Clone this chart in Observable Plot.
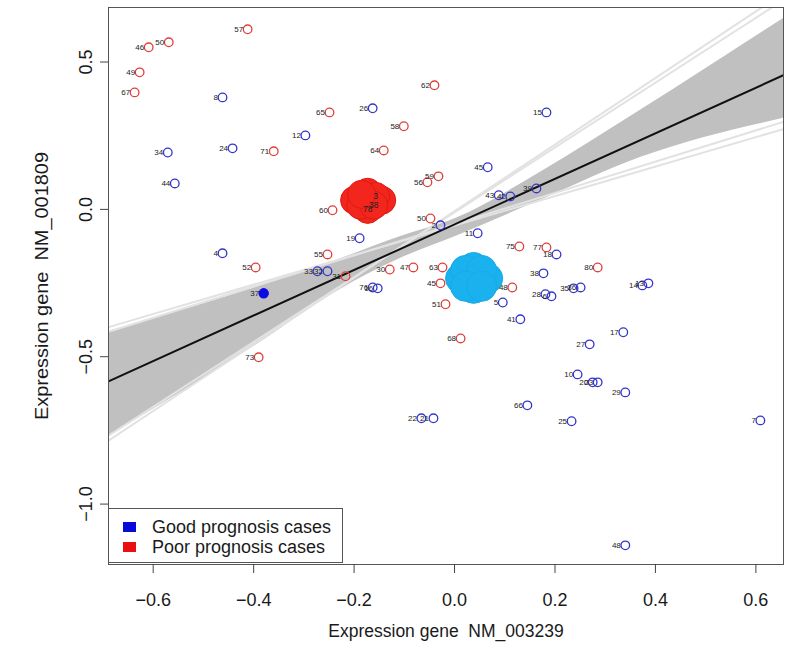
<!DOCTYPE html>
<html>
<head>
<meta charset="utf-8">
<script src="https://cdn.jsdelivr.net/npm/d3@7"></script>
<script src="https://cdn.jsdelivr.net/npm/@observablehq/plot@0.6"></script>
<style>
  body { margin: 0; background: #fff; }
  #wrap { position: relative; width: 795px; height: 650px; font-family: "Liberation Sans", Arial, sans-serif; color: #1a1a1a; }
  #legend { position: absolute; left: 108px; top: 508px; width: 235px; height: 55px; border: 1px solid #555; background: #fff; box-sizing: border-box; }
  .item { position: absolute; left: 14px; height: 20px; display: flex; align-items: center; font-size: 18px; white-space: nowrap; }
  .sw { display: inline-block; width: 13px; height: 10px; margin-right: 16px; }
</style>
</head>
<body>
<div id="wrap"></div>
<script>
// ---- axes ----
const xTicks = [-0.6, -0.4, -0.2, 0.0, 0.2, 0.4, 0.6];
const yTicks = [-1.0, -0.5, 0.0, 0.5];
const xDomain = [-0.689, 0.655];
const yDomain = [-1.205, 0.685];
const xTitle = "Expression gene\u00a0\u00a0NM_003239";
const yTitle = "Expression gene\u00a0\u00a0NM_001809";
const legendLabels = ["Good prognosis cases", "Poor prognosis cases"];
const legendColors = ["#0a0ad8", "#e81010"];

// ---- poor prognosis cases (red open circles) ----
const poorLabels = ["57","46","50","49","67","62","65","58","71","64","59","56","60","50","55","52","73","30","47","63","45","51","68","48","75","77","80","31"];
const poorX = [-0.412,-0.609,-0.569,-0.627,-0.637,-0.040,-0.249,-0.101,-0.360,-0.141,-0.032,-0.054,-0.243,-0.048,-0.253,-0.396,-0.390,-0.129,-0.082,-0.024,-0.028,-0.018,0.012,0.115,0.129,0.183,0.285,-0.217];
const poorY = [0.611,0.550,0.567,0.465,0.397,0.421,0.329,0.282,0.197,0.200,0.112,0.092,-0.003,-0.031,-0.153,-0.197,-0.502,-0.204,-0.197,-0.197,-0.251,-0.322,-0.438,-0.265,-0.126,-0.129,-0.197,-0.227];

// ---- good prognosis cases (blue open circles) ----
const goodLabels = ["8","12","34","24","44","26","15","45","43","42","39","19","2","11","4","33","32","76","16","5","41","18","38","28","6","35","36","14","13","17","27","10","20","23","29","66","22","21","25","7","48"];
const goodX = [-0.462,-0.297,-0.571,-0.442,-0.557,-0.163,0.183,0.066,0.088,0.111,0.163,-0.189,-0.028,0.046,-0.462,-0.273,-0.253,-0.163,-0.153,0.096,0.131,0.203,0.177,0.181,0.193,0.237,0.251,0.374,0.386,0.336,0.269,0.245,0.275,0.285,0.340,0.145,-0.066,-0.042,0.233,0.609,0.340];
const goodY = [0.380,0.251,0.193,0.207,0.088,0.343,0.329,0.143,0.048,0.044,0.071,-0.098,-0.054,-0.081,-0.149,-0.210,-0.210,-0.265,-0.268,-0.316,-0.373,-0.153,-0.217,-0.288,-0.295,-0.268,-0.265,-0.258,-0.251,-0.417,-0.458,-0.560,-0.587,-0.587,-0.621,-0.665,-0.709,-0.709,-0.719,-0.716,-1.140];

// ---- highlighted good case (filled) ----
const filledLabels = ["37"];
const filledX = [-0.380];
const filledY = [-0.285];

// ---- dense clouds of repeated points ----
const poorCloudX = [-0.199,-0.145,-0.173,-0.173,-0.187,-0.157,-0.161,-0.185];
const poorCloudY = [0.031,0.031,0.058,0.000,0.014,0.044,0.014,0.051];
const poorCloudLabels = ["","","","78","","3","38",""];
const goodCloudX = [0.012,0.066,0.038,0.038,0.022,0.054,0.022,0.054];
const goodCloudY = [-0.234,-0.234,-0.197,-0.268,-0.207,-0.207,-0.261,-0.261];

// ---- regression line and bootstrap band ----
const bandX    = [-0.689,-0.396,-0.231,-0.107,0.002,0.171,0.370,0.655];
const bandLow  = [-0.770,-0.461,-0.275,-0.166,-0.092,0.031,0.176,0.309];
const bandHigh = [-0.414,-0.265,-0.170,-0.092,-0.031,0.126,0.336,0.648];
const fitSlope = 0.773;
const fitIntercept = -0.051;
const bootSlopes = [1.13, 1.10, 0.50, 0.53];
const bootIntercepts = [-0.006, -0.010, -0.055, -0.050];

// ---- build tables ----
const rows = (xs, ys, ls) => xs.map((x, i) => ({x, y: ys[i], label: ls ? ls[i] : ""}));
const poor = rows(poorX, poorY, poorLabels);
const good = rows(goodX, goodY, goodLabels);
const filled = rows(filledX, filledY, filledLabels);
const poorCloud = rows(poorCloudX, poorCloudY, poorCloudLabels);
const goodCloud = rows(goodCloudX, goodCloudY);
const band = bandX.map((x, i) => ({x, lo: bandLow[i], hi: bandHigh[i]}));
const boot = bootSlopes.map((s, i) => ({
  x1: xDomain[0], y1: bootIntercepts[i] + s * xDomain[0],
  x2: xDomain[1], y2: bootIntercepts[i] + s * xDomain[1]
}));
const fit = xDomain.map(x => ({x, y: fitIntercept + fitSlope * x}));
const fmt = d3.format(".1f");

const svg = Plot.plot({
  width: 795, height: 650,
  marginLeft: 108, marginRight: 12, marginTop: 7, marginBottom: 86,
  x: {domain: xDomain, axis: null},
  y: {domain: yDomain, axis: null},
  style: {fontFamily: "'Liberation Sans', Arial, sans-serif", background: "#fff", color: "#1a1a1a", fontSize: "18px"},
  marks: [
    Plot.areaY(band, {x: "x", y1: "lo", y2: "hi", fill: "#c0c0c0", curve: "monotone-x", clip: true}),
    Plot.link(boot, {x1: "x1", y1: "y1", x2: "x2", y2: "y2", stroke: "#e2e2e2", strokeWidth: 2, clip: true}),
    Plot.line(fit, {x: "x", y: "y", stroke: "#111", strokeWidth: 2, clip: true}),
    Plot.dot(poorCloud, {x: "x", y: "y", r: 14, fill: "#f2261d", stroke: "#de1a12", strokeWidth: 1}),
    Plot.text(poorCloud, {x: "x", y: "y", text: "label", fontSize: 8.5, fill: "#222"}),
    Plot.dot(goodCloud, {x: "x", y: "y", r: 15, fill: "#1ab2ee", stroke: "#18aae6", strokeWidth: 1}),
    Plot.dot(poor, {x: "x", y: "y", r: 4.3, stroke: "#e0403a", strokeWidth: 1.3, fill: "none"}),
    Plot.dot(good, {x: "x", y: "y", r: 4.3, stroke: "#3535c8", strokeWidth: 1.3, fill: "none"}),
    Plot.dot(filled, {x: "x", y: "y", r: 4.5, fill: "#0b0be0", stroke: "#0b0be0"}),
    Plot.text(poor, {x: "x", y: "y", text: "label", textAnchor: "end", dx: -4.5, fontSize: 8, fill: "#222"}),
    Plot.text(good, {x: "x", y: "y", text: "label", textAnchor: "end", dx: -4.5, fontSize: 8, fill: "#222"}),
    Plot.text(filled, {x: "x", y: "y", text: "label", textAnchor: "end", dx: -4.5, fontSize: 8, fill: "#222"}),
    Plot.frame({stroke: "#555"}),
    Plot.axisX({ticks: xTicks, tickSize: 9, tickFormat: () => "", label: null, stroke: "#444"}),
    Plot.axisY({ticks: yTicks, tickSize: 8, tickFormat: () => "", label: null, stroke: "#444"}),
    Plot.text(xTicks, {x: d => d, frameAnchor: "bottom", dy: 41, text: d => fmt(d), fontSize: 18, fill: "#1a1a1a"}),
    Plot.text(yTicks, {y: d => d, frameAnchor: "left", dx: -22, rotate: -90, textAnchor: "middle", text: d => fmt(d), fontSize: 18, fill: "#1a1a1a"}),
    Plot.text([xTitle], {frameAnchor: "bottom", dy: 72, textAnchor: "middle", text: d => d, fontSize: 17.5, fill: "#1a1a1a"}),
    Plot.text([yTitle], {frameAnchor: "left", dx: -66, rotate: -90, textAnchor: "middle", text: d => d, fontSize: 18, fill: "#1a1a1a"})
  ]
});

// the reference's vertical texts are drawn slightly elongated
d3.select(svg).selectAll("text").each(function () {
  if (this.textContent === yTitle) {
    this.setAttribute("textLength", 268);
    this.setAttribute("lengthAdjust", "spacingAndGlyphs");
  }
});

const wrap = document.getElementById("wrap");
wrap.appendChild(svg);
const legend = document.createElement("div");
legend.id = "legend";
legendLabels.forEach((lab, i) => {
  const item = document.createElement("div");
  item.className = "item";
  item.style.top = (8 + i * 20) + "px";
  const sw = document.createElement("span");
  sw.className = "sw";
  sw.style.background = legendColors[i];
  item.appendChild(sw);
  item.appendChild(document.createTextNode(lab));
  legend.appendChild(item);
});
wrap.appendChild(legend);
</script>
</body>
</html>
